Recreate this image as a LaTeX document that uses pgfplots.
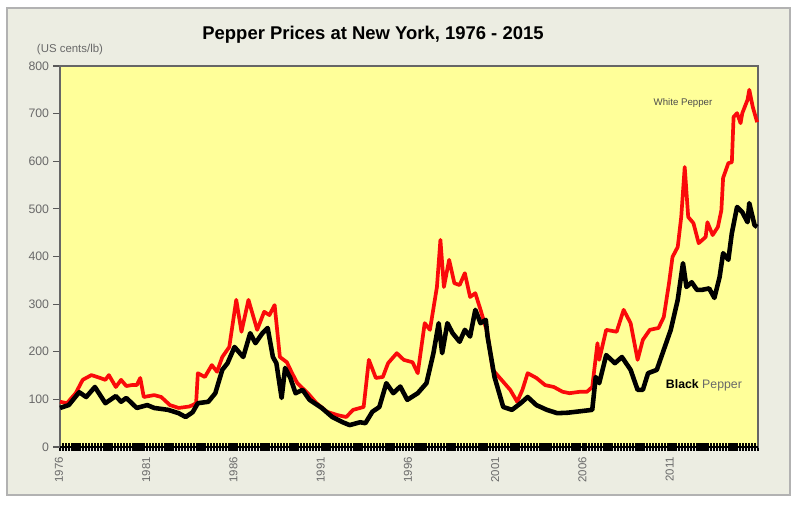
\documentclass[border=0pt]{standalone}
\usepackage{fontspec}
\setmainfont{Liberation Sans}
\usepackage{pgfplots}
\pgfplotsset{compat=1.18}
\definecolor{panelbg}{RGB}{236,237,226}
\definecolor{plotbg}{RGB}{255,255,153}
\definecolor{lbl}{RGB}{105,105,105}
\definecolor{wred}{RGB}{250,10,10}

\begin{document}
\begin{tikzpicture}[x=1cm,y=1cm]
\fill[white] (0,0) rectangle (16,10.24);
\filldraw[fill=panelbg, draw=gray!60, line width=0.6pt] (0.14,0.34) rectangle (15.8,10.08);
\node[font=\bfseries\fontsize{10.5}{12}\selectfont] at (7.46,9.54) {Pepper Prices at New York, 1976 - 2015};
\node[font=\fontsize{6.5}{7}\selectfont, text=lbl] at (1.4,9.24) {(US cents/lb)};

\begin{axis}[
    at={(1.2cm,1.3cm)}, anchor=south west,
    scale only axis,
    width=13.96cm, height=7.62cm,
    xmin=1976, xmax=2016,
    ymin=0, ymax=800,
    axis background/.style={fill=plotbg},
    axis line style={draw=gray!80!black, line width=0.6pt},
    tick pos=left,
    tick align=center,
    xtick={1976,1981,1986,1991,1996,2001,2006,2011},
    xticklabels={1976,1981,1986,1991,1996,2001,2006,2011},
    minor xtick={1976,1976.1666667,...,2016},
    ytick={0,100,200,300,400,500,600,700,800},
    yticklabels={0,100,200,300,400,500,600,700,800},
    major tick length=0.15cm,
    minor tick length=0.15cm,
    xtick style={draw=black, line width=1.25pt},
    minor tick style={draw=black, line width=1.25pt},
    ytick style={draw=gray!70!black, line width=0.7pt, xshift=-0.06cm},
    ticklabel style={text=lbl},
    yticklabel style={font=\fontsize{7}{8}\selectfont, xshift=-0.02cm},
    xticklabel style={font=\fontsize{6.5}{7}\selectfont, rotate=90, anchor=east, yshift=0.02cm},
    clip=false,
]
\addplot[wred, line width=2.1pt, line join=round] coordinates {
(1976.0,95)(1976.4,92)(1976.9,113)(1977.3,141)(1977.8,151)(1978.3,145)(1978.6,141)
(1978.8,151)(1979.2,126)(1979.5,141)(1979.8,128)(1980.1,130)(1980.4,130)(1980.6,145)
(1980.8,105)(1981.4,109)(1981.8,105)(1982.3,88)(1982.8,82)(1983.4,85)(1983.6,88)
(1983.8,92)(1983.9,155)(1984.3,147)(1984.7,172)(1985.0,158)(1985.3,189)(1985.7,210)
(1986.1,309)(1986.4,242)(1986.8,309)(1987.3,246)(1987.7,284)(1988.0,277)(1988.3,298)
(1988.6,189)(1989.0,178)(1989.3,155)(1989.6,134)(1990.2,113)(1990.7,92)(1991.3,74)
(1991.9,67)(1992.4,63)(1992.8,78)(1993.4,84)(1993.7,183)(1994.1,145)(1994.5,147)
(1994.8,176)(1995.3,197)(1995.7,183)(1996.2,178)(1996.5,155)(1996.9,260)(1997.2,246)
(1997.6,336)(1997.8,435)(1998.0,336)(1998.3,393)(1998.6,344)(1998.9,340)(1999.2,365)
(1999.5,315)(1999.8,323)(2000.1,288)(2000.5,239)(2000.8,162)(2001.3,141)(2001.8,120)
(2002.2,95)(2002.5,120)(2002.8,155)(2003.3,145)(2003.8,130)(2004.3,126)(2004.8,116)
(2005.2,113)(2005.8,116)(2006.2,116)(2006.5,126)(2006.8,218)(2006.9,183)(2007.3,246)
(2007.9,242)(2008.3,288)(2008.7,260)(2009.1,183)(2009.4,225)(2009.8,246)(2010.3,250)
(2010.6,273)(2010.9,344)(2011.1,399)(2011.4,420)(2011.6,483)(2011.8,588)(2012.0,483)
(2012.3,470)(2012.6,428)(2013.0,441)(2013.1,472)(2013.4,445)(2013.7,462)(2013.9,497)
(2014.0,565)(2014.3,596)(2014.5,598)(2014.6,693)(2014.8,701)(2015.0,680)(2015.1,701)
(2015.4,729)(2015.5,750)(2015.7,714)(2015.95,682)
};
\addplot[black, line width=2.6pt, line join=round] coordinates {
(1976.0,82)(1976.5,88)(1977.1,115)(1977.5,105)(1978.0,126)(1978.6,92)(1979.2,107)
(1979.5,95)(1979.8,103)(1980.4,82)(1981.0,88)(1981.4,82)(1982.2,78)(1982.8,71)
(1983.2,63)(1983.6,73)(1983.9,92)(1984.5,95)(1984.9,113)(1985.3,162)(1985.6,176)
(1986.0,210)(1986.5,189)(1986.9,239)(1987.2,218)(1987.6,239)(1987.9,250)(1988.2,189)
(1988.4,176)(1988.7,103)(1988.9,166)(1989.2,145)(1989.5,113)(1989.9,120)(1990.3,99)
(1991.0,82)(1991.6,63)(1992.2,52)(1992.6,46)(1993.2,52)(1993.5,50)(1993.9,74)
(1994.3,84)(1994.7,134)(1995.1,113)(1995.5,127)(1995.9,99)(1996.5,113)(1997.0,134)
(1997.4,197)(1997.7,260)(1997.9,197)(1998.2,260)(1998.5,239)(1998.9,221)(1999.2,246)
(1999.5,232)(1999.8,288)(2000.1,260)(2000.4,267)(2000.5,232)(2000.9,147)(2001.4,84)
(2001.9,78)(2002.4,92)(2002.8,105)(2003.3,88)(2003.9,78)(2004.5,71)(2005.1,72)
(2005.8,75)(2006.5,78)(2006.7,147)(2006.9,134)(2007.3,193)(2007.8,176)(2008.2,189)
(2008.7,162)(2009.1,120)(2009.4,120)(2009.7,155)(2010.2,162)(2010.6,204)(2011.0,246)
(2011.4,309)(2011.7,386)(2011.9,336)(2012.2,346)(2012.5,330)(2012.8,330)(2013.2,333)
(2013.5,313)(2013.8,357)(2014.0,407)(2014.3,393)(2014.5,449)(2014.8,504)(2015.1,493)
(2015.4,472)(2015.5,512)(2015.8,466)(2015.95,462)
};
\draw[black, line width=1.2pt] (rel axis cs:0,0) -- (rel axis cs:1,0);
\node[font=\fontsize{5.5}{6}\selectfont, text=black!70] at (axis cs:2011.7,722) {White Pepper};
\node[font=\fontsize{7}{8}\selectfont] at (axis cs:2012.9,130) {\textbf{Black} \textcolor{lbl}{Pepper}};
\end{axis}
\end{tikzpicture}
\end{document}
